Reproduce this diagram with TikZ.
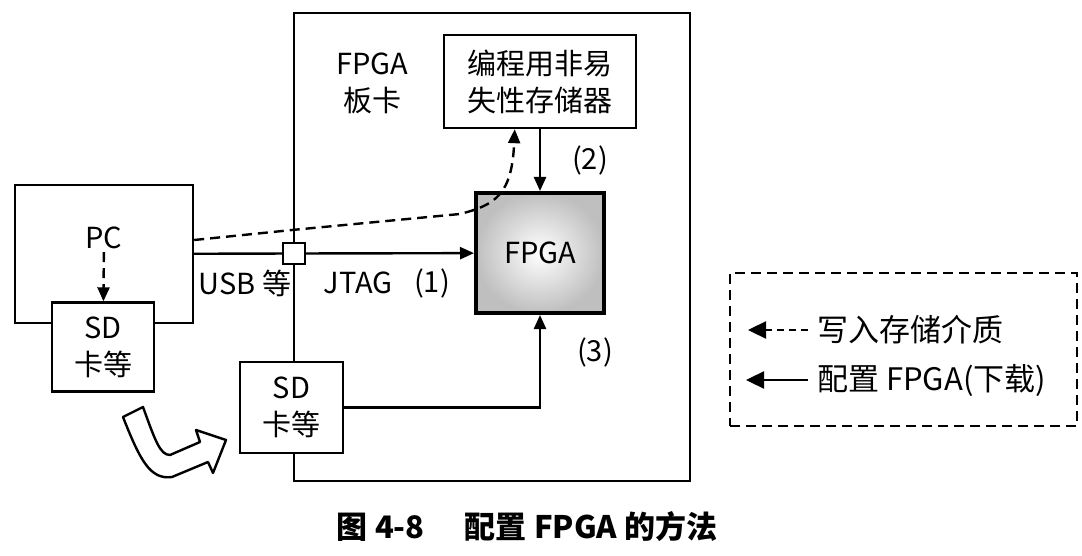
\documentclass[tikz,border=0pt]{standalone}
\usepackage{fontspec}
\setmainfont{Noto Sans CJK SC}
\usetikzlibrary{positioning,calc,arrows.meta}

\begin{document}
\begin{tikzpicture}[x=0.5pt, y=-0.5pt, line width=1.2pt,
    font=\fontsize{14.5}{18.5}\selectfont,
    box/.style={draw, fill=white, align=center, inner sep=0pt},
    arrow/.style={-{Triangle[length=7pt,width=6pt]}},
    keyarrow/.style={-{Triangle[length=9pt,width=8.5pt]}, shorten <=3pt},
    dasharrow/.style={arrow, dash pattern=on 5pt off 3pt},
    lbl/.style={inner sep=1pt, align=center}]
    \useasboundingbox (0,0) rectangle (1082,556);
    % PC with its card
    \node[box, minimum width=89pt, minimum height=69pt] (pc) at (104,254) {};
    \node[lbl] (pclbl) at (104,238) {PC};
    \node[box, minimum width=51pt, minimum height=44.5pt] (sdpc) at (103,347) {SD\\卡等};
    \draw[dasharrow] (pclbl) -- (sdpc);

    % FPGA board
    \node[draw, minimum width=198pt, minimum height=234pt] (board) at (492,247) {};
    \node[lbl] (brdlbl) at (372,83) {FPGA\\板卡};
    \node[box, minimum width=96pt, minimum height=46.5pt] (mem) at (540,81.5) {编程用非易\\失性存储器};
    \node[draw, line width=2pt, minimum width=64pt, minimum height=60pt,
        inner color=white, outer color=gray!50] (fpga) at (540,253) {FPGA};
    \node[box, minimum width=11pt, minimum height=10.5pt] (port) at (294,253.5) {};
    \node[box, minimum width=51.5pt, minimum height=45.5pt] (sdbrd) at (291.5,407.5) {SD\\卡等};

    % connections
    \draw (pc) -- (port);
    \draw[arrow] (port) -- (fpga);
    \draw[arrow] (mem) -- (fpga);
    \draw[arrow] (sdbrd) -| (fpga);
    \coordinate (memin) at ($(mem.south west)!0.37!(mem.south east)$);
    \draw[dasharrow] ([yshift=7pt]pc.east) -- ([yshift=6pt]port.north) -- (460,214)
        .. controls (495,205) and (512,195) .. (memin);
    \node[lbl] (usb) at (245,283) {USB 等};
    \node[lbl] (jtag) at (358,283) {JTAG};
    \node[lbl] (n1) at (432,283) {(1)};
    \node[lbl] (n2) at (590,160) {(2)};
    \node[lbl] (n3) at (595,352) {(3)};

    % moving the card
    \draw[fill=white, line join=round] (123,417) -- (143,407)
        .. controls (155,440) and (160,455) .. (170,455) -- (200,442)
        -- (196,430) -- (226,440) -- (213,473) -- (208,462) -- (172,477)
        .. controls (150,480) and (140,460) .. cycle;

    % legend
    \node[draw, dash pattern=on 5pt off 3pt, minimum width=173.5pt,
        minimum height=76.5pt] (legend) at (903.5,349.5) {};
    \node[lbl, anchor=west, font=\fontsize{15.5}{19}\selectfont] (key1) at (814,330) {写入存储介质};
    \node[lbl, anchor=west, font=\fontsize{15.5}{19}\selectfont] (key2) at (814,380) {配置 FPGA(下载)};
    \coordinate (k1) at (748,330);
    \coordinate (k2) at (746,380);
    \draw[keyarrow, dash pattern=on 3.5pt off 2.5pt] (key1.west) -- (k1);
    \draw[keyarrow] (key2.west) -- (k2);

    \node[font=\fontsize{15.5}{19}\selectfont\bfseries] (caption) at (527,527)
        {图 4-8\hspace{1.3em}配置 FPGA 的方法};
\end{tikzpicture}
\end{document}
